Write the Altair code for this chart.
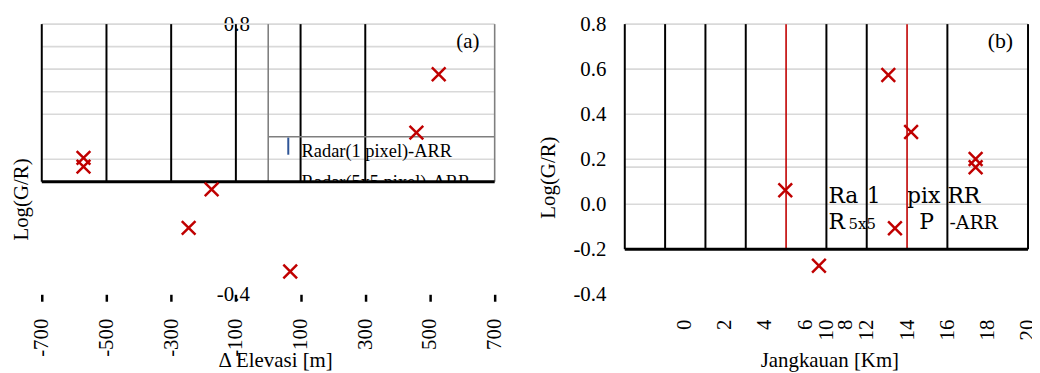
import altair as alt
import pandas as pd

# ---------------- data ----------------
elev_m = [-571, -571, -175, -246, 68, 458, 527]
log_gr_a = [0.206, 0.167, 0.066, -0.105, -0.299, 0.318, 0.577]
range_km = [17.4, 17.4, 7.96, 13.4, 9.63, 14.2, 13.07]
log_gr_b = [0.201, 0.164, 0.062, -0.107, -0.273, 0.321, 0.574]

elev_ticks = [-700, -500, -300, -100, 100, 300, 500, 700]
range_ticks = [0, 2, 4, 6, 8, 10, 12, 14, 16, 18, 20]
y_ticks_a = [0.8, -0.4]
y_ticks_b = [0.8, 0.6, 0.4, 0.2, 0.0, -0.2, -0.4]

grid_a = [0.8, 0.7, 0.6, 0.5, 0.4, 0.2]
vlines_a = [-700, -500, -300, -100, 100, 300]
gray_vlines_a = [0, 700]
frame_a = [0.8, 0.1]          # top / bottom of the drawn frame (a)
legend_box_a = [0.3]          # legend top line (a)

grid_b = [0.8, 0.6, 0.4, 0.2, 0.165, 0.0]
vlines_b = [0, 2, 4, 6, 10, 12, 16, 20]
red_vlines_b = [8, 14]
frame_b = [0.8, -0.2]

legend_a_text = ["Radar(1 pixel)-ARR", "Radar(5x5 pixel)-ARR"]
legend_a_x = [100, 100]
legend_a_y = [0.21, 0.073]
legend_a_marker_x = [62]
legend_a_marker_y = [0.296, 0.22]

legend_b_text = ["Ra", "1", "pix", "RR", "R", "5x5", "P", "-ARR"]
legend_b_x = [10.1, 12.0, 14.0, 16.0, 10.1, 11.1, 14.6, 16.1]
legend_b_y = [0.005, 0.005, 0.005, 0.005, -0.112, -0.112, -0.112, -0.112]
legend_b_size = [22, 22, 22, 22, 22, 15, 22, 19]

panel_a_label = ["(a)"]
panel_a_label_pos = [617, 0.695]
panel_b_label = ["(b)"]
panel_b_label_pos = [18.63, 0.693]

# ---------------- style ----------------
FONT = "Liberation Serif"
RED = "#C00000"
GRID = "#D9D9D9"
DARKGRAY = "#7F7F7F"
BLUE = "#2F5597"
XSHAPE = "M-1,-1L1,1M-1,1L1,-1"
W_A, W_B, H = 456, 406, 272
HYPHEN = "replace(datum.label, '\u2212', '-')"
FS = 21

common_axis = dict(
    labelFont=FONT, titleFont=FONT, labelFontSize=FS, titleFontSize=FS,
    labelColor="black", titleColor="black", titleFontWeight="normal",
    labelOverlap=False, labelFlush=False, domain=False, grid=False,
)

xa = alt.Scale(domain=[-700, 700], nice=False, zero=False)
ya = alt.Scale(domain=[-0.4, 0.8], nice=False, zero=False)
xb = alt.Scale(domain=[0, 20], nice=False, zero=False)
yb = alt.Scale(domain=[-0.4, 0.8], nice=False, zero=False)

# ---------------- panel (a) ----------------
df_a = pd.DataFrame({"elev": elev_m, "g": log_gr_a})

x_axis_a = alt.Axis(
    title="\u0394 Elevasi [m]", values=elev_ticks, format="d", labelExpr=HYPHEN,
    labelAngle=270, labelPadding=17,
    ticks=True, tickSize=7, tickWidth=2.5, tickColor="black",
    titleX=235, titleY=73, titleBaseline="alphabetic", titleAlign="center",
    **common_axis,
)
y_axis_a = alt.Axis(
    title="Log(G/R)", values=y_ticks_a, format=".1f", labelExpr=HYPHEN,
    offset=-228, ticks=False, tickSize=0, labelPadding=19,
    titleAngle=270, titleX=-242, titleY=176, titleBaseline="alphabetic", titleAlign="center",
    **common_axis,
)

grid_a_layer = alt.Chart(pd.DataFrame({"y": grid_a, "x1": elev_ticks[0], "x2": elev_ticks[-1]})).mark_rule(
    color=GRID, strokeWidth=1.6).encode(y=alt.Y("y:Q", scale=ya), x=alt.X("x1:Q", scale=xa), x2="x2:Q")

legend_text_a = alt.Chart(pd.DataFrame({"t": legend_a_text, "x": legend_a_x, "y": legend_a_y})).mark_text(
    font=FONT, fontSize=18.5, align="left", baseline="alphabetic", color="black", dx=1).encode(
    x="x:Q", y="y:Q", text="t:N")

vline_a_layer = alt.Chart(pd.DataFrame({"x": vlines_a, "y1": frame_a[0], "y2": frame_a[1]})).mark_rule(
    color="black", strokeWidth=2).encode(x="x:Q", y="y1:Q", y2="y2:Q")

grayv_a_layer = alt.Chart(pd.DataFrame({"x": gray_vlines_a, "y1": frame_a[0], "y2": frame_a[1]})).mark_rule(
    color=DARKGRAY, strokeWidth=1.6).encode(x="x:Q", y="y1:Q", y2="y2:Q")

mask_a = alt.Chart(pd.DataFrame({"x1": [gray_vlines_a[0]], "x2": [gray_vlines_a[1]],
                                 "y1": [frame_a[1]], "y2": [0.0]})).mark_rect(color="white").encode(
    x="x1:Q", x2="x2:Q", y="y1:Q", y2="y2:Q")

bottom_a = alt.Chart(pd.DataFrame({"y": [frame_a[1]], "x1": elev_ticks[0], "x2": elev_ticks[-1]})).mark_rule(
    color="black", strokeWidth=3).encode(y="y:Q", x="x1:Q", x2="x2:Q")

legend_top_a = alt.Chart(pd.DataFrame({"y": legend_box_a, "x1": gray_vlines_a[0], "x2": gray_vlines_a[1]})).mark_rule(
    color=DARKGRAY, strokeWidth=1.6).encode(y="y:Q", x="x1:Q", x2="x2:Q")

legend_marker_a = alt.Chart(pd.DataFrame({"x": legend_a_marker_x, "y1": [legend_a_marker_y[0]],
                                          "y2": [legend_a_marker_y[1]]})).mark_rule(
    color=BLUE, strokeWidth=2).encode(x="x:Q", y="y1:Q", y2="y2:Q")

label_a = alt.Chart(pd.DataFrame({"t": panel_a_label, "x": [panel_a_label_pos[0]], "y": [panel_a_label_pos[1]]})).mark_text(
    font=FONT, fontSize=21, align="center", baseline="alphabetic", color="black").encode(
    x="x:Q", y="y:Q", text="t:N")

points_a = alt.Chart(df_a).mark_point(
    shape=XSHAPE, size=190, filled=False, strokeWidth=2.5, color=RED, opacity=1).encode(
    x=alt.X("elev:Q", scale=xa, axis=x_axis_a),
    y=alt.Y("g:Q", scale=ya, axis=y_axis_a),
)

panel_a = alt.layer(
    grid_a_layer, legend_text_a, vline_a_layer, grayv_a_layer, mask_a, bottom_a,
    legend_top_a, legend_marker_a, label_a, points_a,
).properties(width=W_A, height=H)

# ---------------- panel (b) ----------------
df_b = pd.DataFrame({"km": range_km, "g": log_gr_b})

x_axis_b = alt.Axis(
    title="Jangkauan [Km]", values=range_ticks, format="d",
    labelAngle=270, labelPadding=25,
    labelOffset=alt.condition("datum.value <= 8", alt.value(60), alt.value(0)),
    ticks=False, tickSize=0,
    titleX=206, titleY=73, titleBaseline="alphabetic", titleAlign="center",
    **common_axis,
)
y_axis_b = alt.Axis(
    title="Log(G/R)", values=y_ticks_b, format=".1f", labelExpr=HYPHEN,
    ticks=False, tickSize=0, labelPadding=19,
    titleAngle=270, titleX=-71, titleY=154, titleBaseline="alphabetic", titleAlign="center",
    **common_axis,
)

grid_b_layer = alt.Chart(pd.DataFrame({"y": grid_b, "x1": range_ticks[0], "x2": range_ticks[-1]})).mark_rule(
    color=GRID, strokeWidth=1.6).encode(y=alt.Y("y:Q", scale=yb), x=alt.X("x1:Q", scale=xb), x2="x2:Q")

legend_text_b = alt.Chart(pd.DataFrame({"t": legend_b_text, "x": legend_b_x, "y": legend_b_y,
                                        "s": legend_b_size})).mark_text(
    font="DejaVu Serif", align="left", baseline="alphabetic", color="black").encode(
    x="x:Q", y="y:Q", text="t:N", size=alt.Size("s:Q", scale=None, legend=None))

vline_b_layer = alt.Chart(pd.DataFrame({"x": vlines_b, "y1": frame_b[0], "y2": frame_b[1]})).mark_rule(
    color="black", strokeWidth=2).encode(x="x:Q", y="y1:Q", y2="y2:Q")

redv_b_layer = alt.Chart(pd.DataFrame({"x": red_vlines_b, "y1": frame_b[0], "y2": frame_b[1]})).mark_rule(
    color=RED, strokeWidth=1.6).encode(x="x:Q", y="y1:Q", y2="y2:Q")

bottom_b = alt.Chart(pd.DataFrame({"y": [frame_b[1]], "x1": range_ticks[0], "x2": range_ticks[-1]})).mark_rule(
    color="black", strokeWidth=3).encode(y="y:Q", x="x1:Q", x2="x2:Q")

label_b = alt.Chart(pd.DataFrame({"t": panel_b_label, "x": [panel_b_label_pos[0]], "y": [panel_b_label_pos[1]]})).mark_text(
    font=FONT, fontSize=22, align="center", baseline="alphabetic", color="black").encode(
    x="x:Q", y="y:Q", text="t:N")

points_b = alt.Chart(df_b).mark_point(
    shape=XSHAPE, size=190, filled=False, strokeWidth=2.5, color=RED, opacity=1).encode(
    x=alt.X("km:Q", scale=xb, axis=x_axis_b),
    y=alt.Y("g:Q", scale=yb, axis=y_axis_b),
)

panel_b = alt.layer(
    grid_b_layer, legend_text_b, vline_b_layer, redv_b_layer, bottom_b, label_b, points_b,
).properties(width=W_B, height=H)

chart = alt.hconcat(panel_a, panel_b, spacing=33).properties(
    padding={"left": 3, "top": 4, "right": -6, "bottom": 0},
    background="white",
).configure(font=FONT).configure_view(strokeWidth=0).configure_axis(
    labelFont=FONT, titleFont=FONT, labelFontSize=FS, titleFontSize=FS,
    labelColor="black", titleColor="black", titleFontWeight="normal",
)

chart.save("out.html", embed_options={"renderer": "svg", "actions": False})
